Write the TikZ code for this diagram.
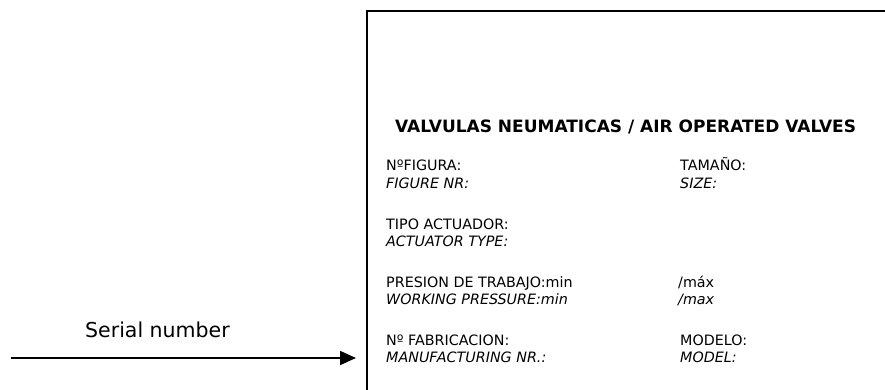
\documentclass[tikz,border=0pt]{standalone}
\usepackage{fontspec}
\setmainfont{DejaVu Sans}
\usetikzlibrary{arrows.meta}
\tikzset{
  lbl/.style={anchor=base west, inner sep=0pt, font=\fontsize{14.3}{17}\selectfont},
  lbli/.style={lbl, font=\fontsize{14.3}{17}\selectfont\itshape},
  ttl/.style={anchor=base west, inner sep=0pt, font=\fontsize{17}{20}\selectfont\bfseries},
  plate/.style={line width=1.8pt},
  pointer/.style={line width=1.8pt, -{Triangle[length=16pt,width=14pt]}}
}
\begin{document}
\begin{tikzpicture}[x=1pt,y=-1pt]
\useasboundingbox (0,0) rectangle (885,390);
% name plate outline (open to the right and bottom)
\draw[plate] (367,400) -- (367,11) -- (895,11);
% title
\node[ttl] (title) at (395,133) {VALVULAS NEUMATICAS / AIR OPERATED VALVES};
% left column
\node[lbl]  (fig)   at (386,171) {NºFIGURA:};
\node[lbli] (figen) at (386,188) {FIGURE NR:};
\node[lbl]  (act)   at (386,229) {TIPO ACTUADOR:};
\node[lbli] (acten) at (386,246) {ACTUATOR TYPE:};
\node[lbl]  (pres)  at (386,287) {PRESION DE TRABAJO:min};
\node[lbli] (presen) at (386,304) {WORKING PRESSURE:min};
\node[lbl]  (fab)   at (386,345) {Nº FABRICACION:};
\node[lbli] (faben) at (386,362) {MANUFACTURING NR.:};
% right column
\node[lbl]  (size)   at (680,171) {TAMAÑO:};
\node[lbli] (sizeen) at (680,188) {SIZE:};
\node[lbl]  (max)    at (678,287) {/máx};
\node[lbli] (maxen)  at (678,304) {/max};
\node[lbl]  (model)  at (680,345) {MODELO:};
\node[lbli] (modelen) at (680,362) {MODEL:};
% serial number pointer
\node[anchor=base west, inner sep=0pt, font=\fontsize{20.5}{24}\selectfont] (serial) at (85,337) {Serial number};
\coordinate (tail) at (11,358);
\coordinate (tip) at (356,358);
\draw[pointer] (tail) -- (tip);
\end{tikzpicture}
\end{document}
